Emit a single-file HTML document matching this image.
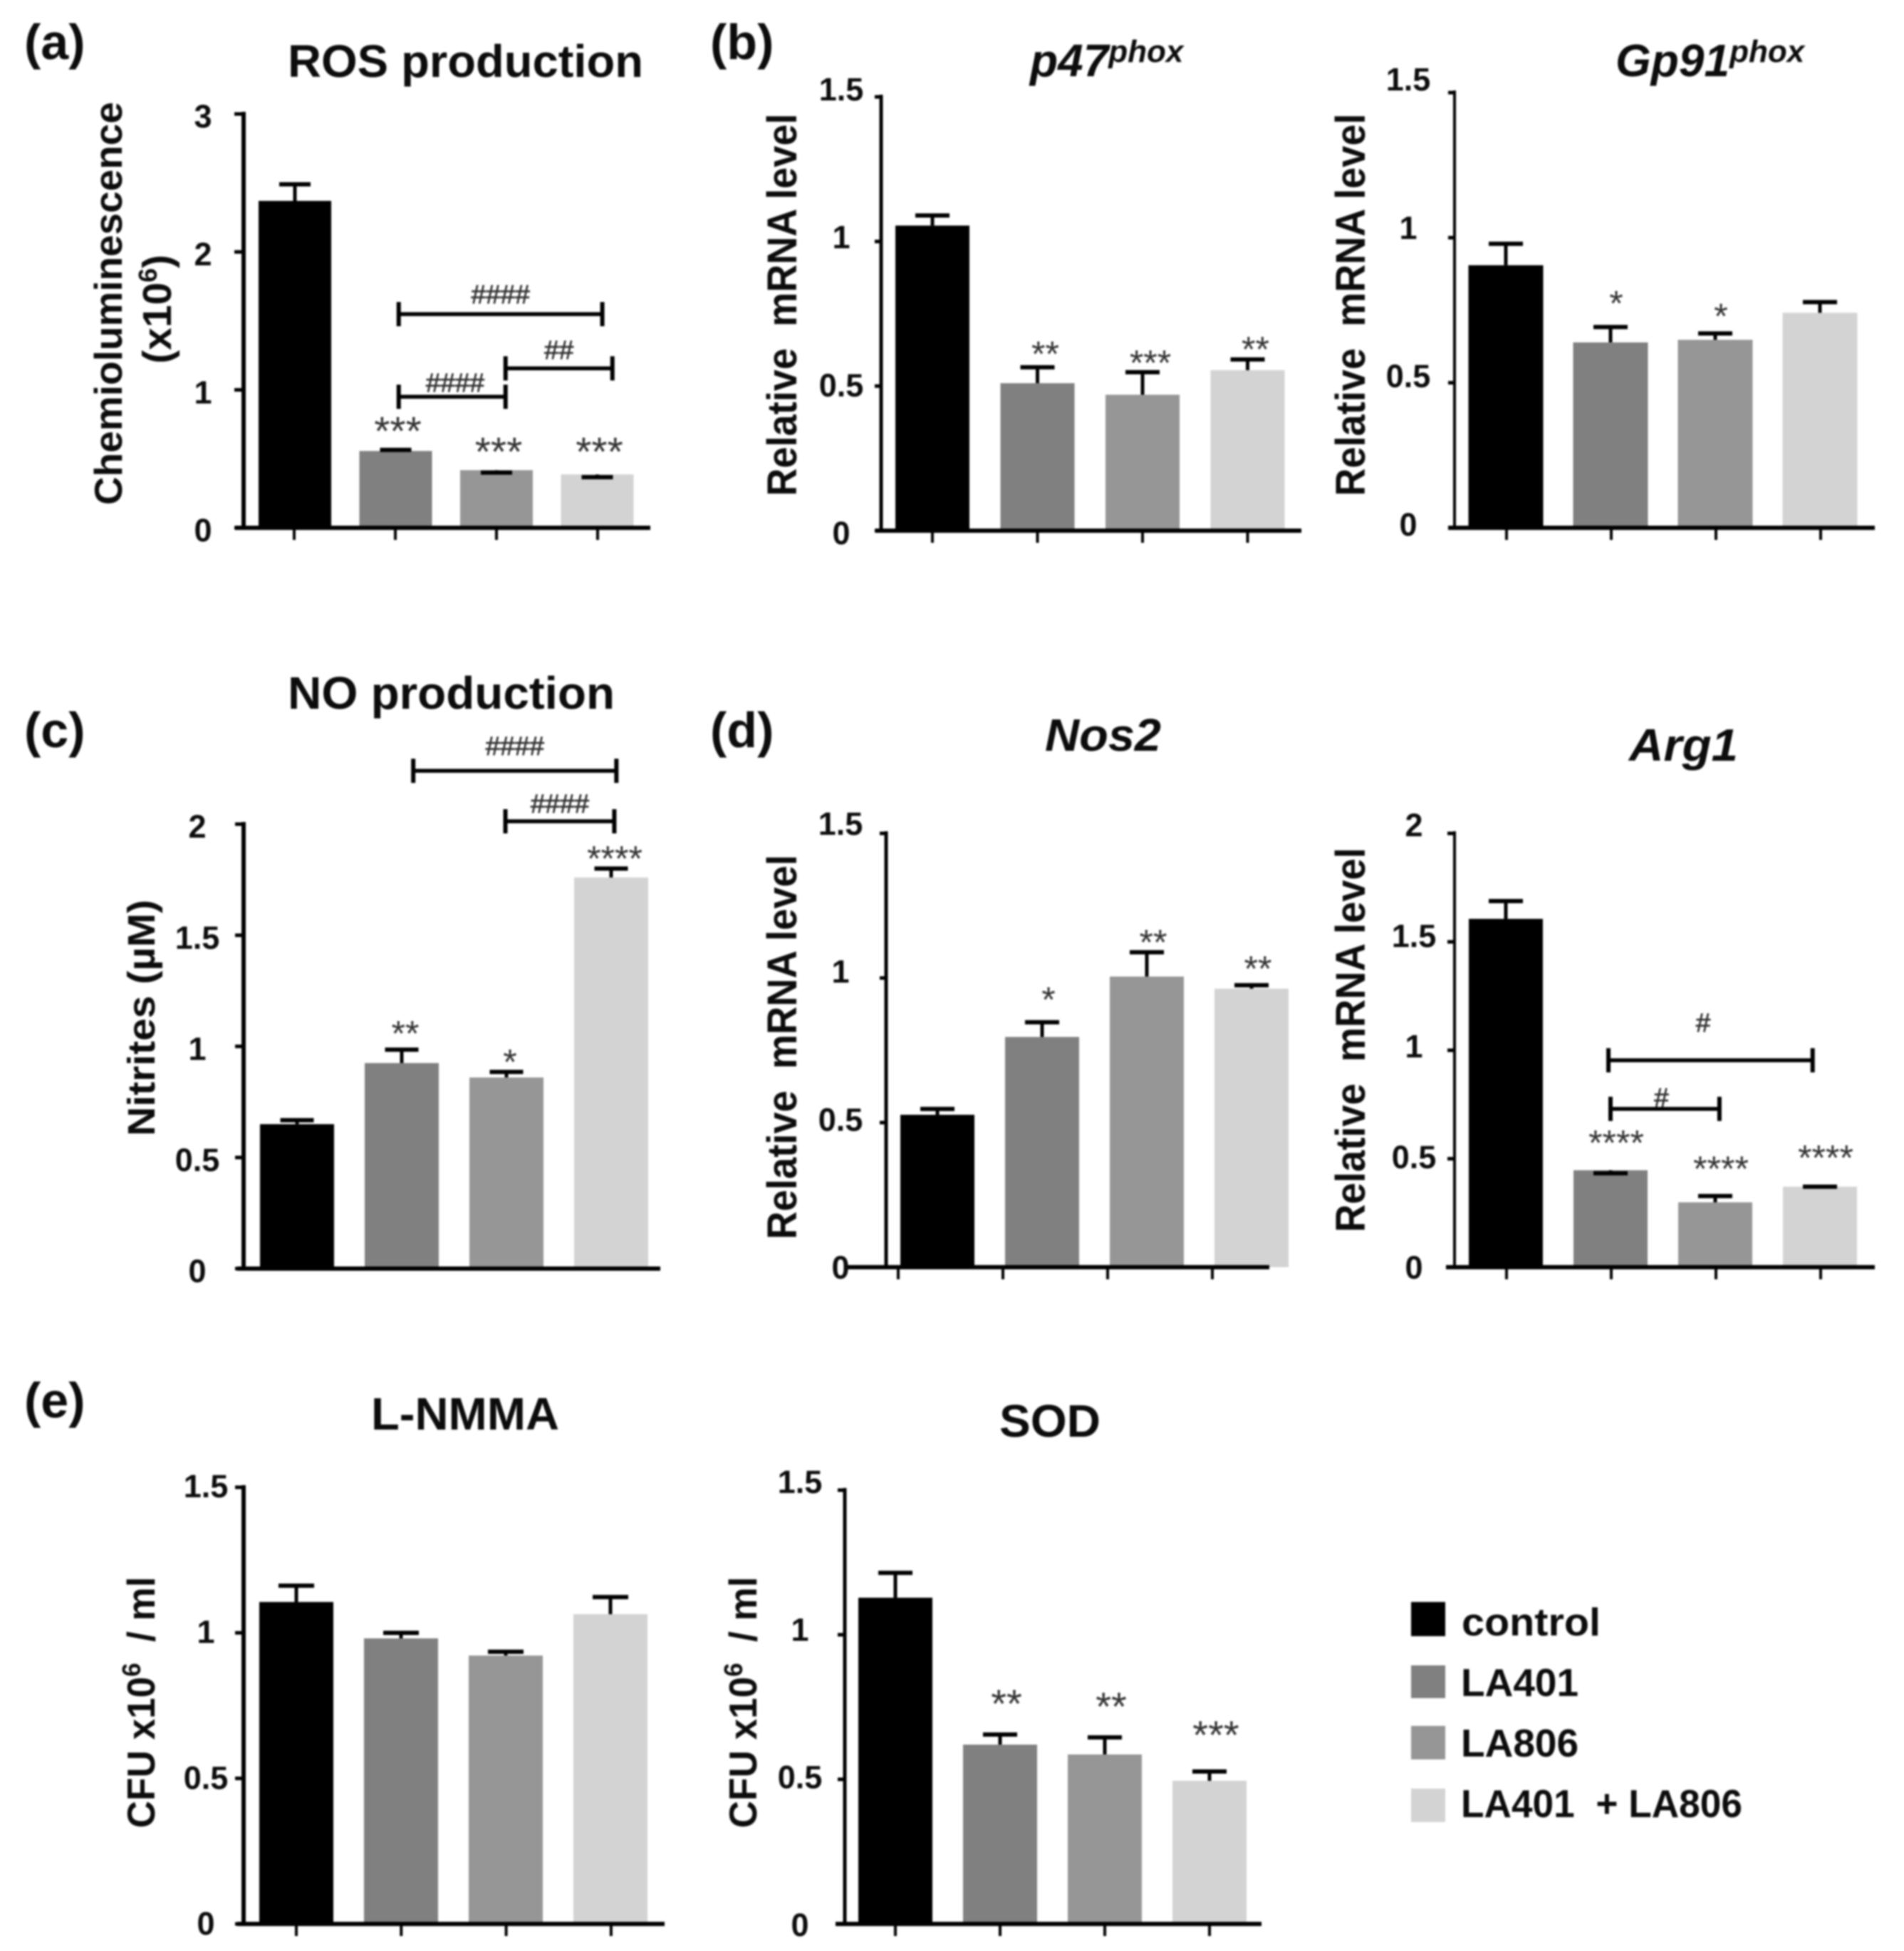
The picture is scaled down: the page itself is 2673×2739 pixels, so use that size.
<!DOCTYPE html>
<html lang="en">
<head>
<meta charset="utf-8">
<title>Bar chart figure: ROS, NO and mRNA levels</title>
<style>
html,body{margin:0;padding:0;background:#fff;}
#figure{display:block;width:2673px;height:2739px;filter:blur(1.2px);background:#fff;}
text{font-family:"Liberation Sans",Arial,sans-serif;fill:#0c0c0c;white-space:pre;}
.b{font-weight:700;}
.i{font-style:italic;font-weight:700;}
</style>
</head>
<body>
<svg id="figure" xmlns="http://www.w3.org/2000/svg" width="2673" height="2739" viewBox="0 0 2673 2739">
  <rect x="0" y="0" width="2673" height="2739" fill="#fff"/>

  <text class="b" x="34" y="83" font-size="70">(a)</text>
  <text class="b" x="997" y="83" font-size="70">(b)</text>
  <text class="b" x="34" y="1049" font-size="70">(c)</text>
  <text class="b" x="997" y="1049" font-size="70">(d)</text>
  <text class="b" x="34" y="1990" font-size="70">(e)</text>

  <text class="b" x="404" y="108" font-size="64" textLength="499" lengthAdjust="spacingAndGlyphs">ROS production</text>
  <text class="i" x="1446" y="107" font-size="64">p47<tspan font-size="44" dy="-20">phox</tspan></text>
  <text class="i" x="2268" y="107" font-size="64">Gp91<tspan font-size="44" dy="-20">phox</tspan></text>
  <text class="b" x="404" y="995" font-size="64" textLength="459" lengthAdjust="spacingAndGlyphs">NO production</text>
  <text class="i" x="1467" y="1054" font-size="64" textLength="163" lengthAdjust="spacingAndGlyphs">Nos2</text>
  <text class="i" x="2287" y="1068" font-size="64" textLength="153" lengthAdjust="spacingAndGlyphs">Arg1</text>
  <text class="b" x="521" y="2007" font-size="64" textLength="264" lengthAdjust="spacingAndGlyphs">L-NMMA</text>
  <text class="b" x="1403" y="2017" font-size="64" textLength="142" lengthAdjust="spacingAndGlyphs">SOD</text>

  <text class="b" transform="translate(171 426) rotate(-90)" text-anchor="middle" font-size="55" textLength="566" lengthAdjust="spacingAndGlyphs">Chemioluminescence</text>
  <text class="b" transform="translate(240 434) rotate(-90)" text-anchor="middle" font-size="57">(x10<tspan font-size="36" dy="-20">6</tspan><tspan dy="20">)</tspan></text>
  <text class="b" transform="translate(1118 428) rotate(-90)" text-anchor="middle" font-size="58" textLength="537" lengthAdjust="spacingAndGlyphs">Relative  mRNA level</text>
  <text class="b" transform="translate(1916 428) rotate(-90)" text-anchor="middle" font-size="58" textLength="537" lengthAdjust="spacingAndGlyphs">Relative  mRNA level</text>
  <text class="b" transform="translate(217 1429) rotate(-90)" text-anchor="middle" font-size="54" textLength="332" lengthAdjust="spacingAndGlyphs">Nitrites (µM)</text>
  <text class="b" transform="translate(1118 1470) rotate(-90)" text-anchor="middle" font-size="58" textLength="540" lengthAdjust="spacingAndGlyphs">Relative  mRNA level</text>
  <text class="b" transform="translate(1916 1460) rotate(-90)" text-anchor="middle" font-size="58" textLength="540" lengthAdjust="spacingAndGlyphs">Relative  mRNA level</text>
  <text class="b" transform="translate(217 2390) rotate(-90)" text-anchor="middle" font-size="55" textLength="353" lengthAdjust="spacingAndGlyphs">CFU x10<tspan font-size="36" dy="-20">6</tspan><tspan dy="20">  / ml</tspan></text>
  <text class="b" transform="translate(1062 2390) rotate(-90)" text-anchor="middle" font-size="55" textLength="353" lengthAdjust="spacingAndGlyphs">CFU x10<tspan font-size="36" dy="-20">6</tspan><tspan dy="20">  / ml</tspan></text>

  <g id="charts"></g>

  <g>
    <rect x="1981" y="2249" width="48" height="48" fill="#000000"/>
    <text class="b" x="2052" y="2296" font-size="55" textLength="195" lengthAdjust="spacingAndGlyphs">control</text>
    <rect x="1981" y="2338" width="48" height="46" fill="#808080"/>
    <text class="b" x="2051" y="2381" font-size="55">LA401</text>
    <rect x="1981" y="2423" width="48" height="47" fill="#969696"/>
    <text class="b" x="2051" y="2466" font-size="55">LA806</text>
    <rect x="1981" y="2511" width="48" height="47" fill="#d3d3d3"/>
    <text class="b" x="2051" y="2551" font-size="55" textLength="395" lengthAdjust="spacingAndGlyphs">LA401  + LA806</text>
  </g>
</svg>

<script>
// ---- shared ----
const groups = ['control', 'LA401', 'LA806', 'LA401 + LA806'];
const groupColors = ['#000000', '#808080', '#969696', '#d3d3d3'];

// ---- ROS production ----
const rosTicks = [0, 1, 2, 3];
const rosTickLabels = ['0', '1', '2', '3'];
const rosValues = [2.37, 0.557, 0.418, 0.387];
const rosErrorTops = [2.49, 0.565, 0.40, 0.367];
const rosStars = ['', '***', '***', '***'];
const rosStarLevels = [0, 0.749, 0.60, 0.60];
const rosBracketFrom = [1.03, 2.09, 1.03];
const rosBracketTo = [3.05, 3.15, 2.09];
const rosBracketLevels = [1.549, 1.156, 0.95];
const rosBracketLabels = ['####', '##', '####'];
const rosBracketLabelAt = [2.04, 2.62, 1.59];
const rosBracketLabelLevels = [1.688, 1.285, 1.048];

// ---- p47phox ----
const p47Ticks = [0, 0.5, 1, 1.5];
const p47TickLabels = ['0', '0.5', '1', '1.5'];
const p47Values = [1.055, 0.51, 0.47, 0.555];
const p47ErrorTops = [1.09, 0.565, 0.548, 0.592];
const p47Stars = ['', '**', '***', '**'];
const p47StarLevels = [0, 0.63, 0.60, 0.646];

// ---- Gp91phox ----
const gp91Ticks = [0, 0.5, 1, 1.5];
const gp91TickLabels = ['0', '0.5', '1', '1.5'];
const gp91Values = [0.905, 0.639, 0.648, 0.741];
const gp91ErrorTops = [0.979, 0.692, 0.67, 0.778];
const gp91Stars = ['', '*', '*', ''];
const gp91StarLevels = [0, 0.793, 0.749, 0];

// ---- NO production ----
const noTicks = [0, 0.5, 1, 1.5, 2];
const noTickLabels = ['0', '0.5', '1', '1.5', '2'];
const noValues = [0.65, 0.925, 0.86, 1.76];
const noErrorTops = [0.668, 0.985, 0.885, 1.8];
const noStars = ['', '**', '*', '****'];
const noStarLevels = [0, 1.084, 0.955, 1.87];
const noBracketFrom = [1.11, 1.99];
const noBracketTo = [3.05, 3.03];
const noBracketLevels = [2.24, 2.013];
const noBracketLabels = ['####', '####'];
const noBracketLabelAt = [2.08, 2.51];
const noBracketLabelLevels = [2.349, 2.09];

// ---- Nos2 ----
const nos2Ticks = [0, 0.5, 1, 1.5];
const nos2TickLabels = ['0', '0.5', '1', '1.5'];
const nos2Values = [0.527, 0.796, 1.005, 0.963];
const nos2ErrorTops = [0.547, 0.847, 1.089, 0.975];
const nos2Stars = ['', '*', '**', '**'];
const nos2StarLevels = [0, 0.944, 1.143, 1.052];

// ---- Arg1 ----
const arg1Ticks = [0, 0.5, 1, 1.5, 2];
const arg1TickLabels = ['0', '0.5', '1', '1.5', '2'];
const arg1Values = [1.606, 0.447, 0.299, 0.371];
const arg1ErrorTops = [1.688, 0.433, 0.328, 0.371];
const arg1Stars = ['', '****', '****', '****'];
const arg1StarLevels = [0, 0.6, 0.479, 0.531];
const arg1BracketFrom = [0.98, 1.0];
const arg1BracketTo = [2.93, 2.04];
const arg1BracketLevels = [0.954, 0.73];
const arg1BracketLabels = ['#', '#'];
const arg1BracketLabelAt = [1.885, 1.486];
const arg1BracketLabelLevels = [1.125, 0.78];

// ---- L-NMMA ----
const lnmmaTicks = [0, 0.5, 1, 1.5];
const lnmmaTickLabels = ['0', '0.5', '1', '1.5'];
const lnmmaValues = [1.106, 0.981, 0.922, 1.064];
const lnmmaErrorTops = [1.162, 1.0, 0.935, 1.123];

// ---- SOD ----
const sodTicks = [0, 0.5, 1, 1.5];
const sodTickLabels = ['0', '0.5', '1', '1.5'];
const sodValues = [1.128, 0.62, 0.586, 0.495];
const sodErrorTops = [1.214, 0.655, 0.645, 0.527];
const sodStars = ['', '**', '**', '***'];
const sodStarLevels = [0, 0.783, 0.773, 0.675];

// ---- panel wiring and layout ----
const panels = [
  {id:'ros', ticks:rosTicks, tickLabels:rosTickLabels, values:rosValues, errorTops:rosErrorTops, stars:rosStars, starLevels:rosStarLevels,
   bracketFrom:rosBracketFrom, bracketTo:rosBracketTo, bracketLevels:rosBracketLevels, bracketLabels:rosBracketLabels, bracketLabelAt:rosBracketLabelAt, bracketLabelLevels:rosBracketLabelLevels,
   axisX:342, yTop:160, y0:741, xStart:330, xEnd:913, barX0:414, barStep:141.5, barW:102, tickX0:413, tickStep:142, showTicks:true, capW:44, starDx:3, starSize:57, lw:6, tickLen:13, labelX:285, lbl0:760, lblMax:179},
  {id:'p47', ticks:p47Ticks, tickLabels:p47TickLabels, values:p47Values, errorTops:p47ErrorTops, stars:p47Stars, starLevels:p47StarLevels,
   axisX:1237, yTop:136, y0:745, xStart:1229, xEnd:1827, barX0:1309, barStep:147.5, barW:104, tickX0:1309, tickStep:147.5, showTicks:true, capW:48, starDx:11, starSize:50, lw:5, tickLen:9, labelX:1181, lbl0:764, lblMax:141},
  {id:'gp91', ticks:gp91Ticks, tickLabels:gp91TickLabels, values:gp91Values, errorTops:gp91ErrorTops, stars:gp91Stars, starLevels:gp91StarLevels,
   axisX:2042, yTop:130, y0:741, xStart:2033, xEnd:2632, barX0:2114, barStep:147, barW:105, tickX0:2115, tickStep:147, showTicks:true, capW:48, starDx:8, starSize:50, lw:4, tickLen:9, labelX:1977, lbl0:752, lblMax:127},
  {id:'no', ticks:noTicks, tickLabels:noTickLabels, values:noValues, errorTops:noErrorTops, stars:noStars, starLevels:noStarLevels,
   bracketFrom:noBracketFrom, bracketTo:noBracketTo, bracketLevels:noBracketLevels, bracketLabels:noBracketLabels, bracketLabelAt:noBracketLabelAt, bracketLabelLevels:noBracketLabelLevels,
   axisX:342, yTop:1157, y0:1781, xStart:333, xEnd:927, barX0:417, barStep:147, barW:104, tickX0:417, tickStep:147, showTicks:false, capW:47, starDx:5, starSize:50, lw:6, tickLen:12, labelX:277, lbl0:1800, lblMax:1176},
  {id:'nos2', ticks:nos2Ticks, tickLabels:nos2TickLabels, values:nos2Values, errorTops:nos2ErrorTops, stars:nos2Stars, starLevels:nos2StarLevels,
   axisX:1244, yTop:1170, y0:1779, xStart:1187, xEnd:1782, barX0:1316, barStep:147, barW:104, tickX0:1261, tickStep:147, showTicks:true, capW:48, starDx:9, starSize:50, lw:5, tickLen:9, labelX:1180, lbl0:1795, lblMax:1172},
  {id:'arg1', ticks:arg1Ticks, tickLabels:arg1TickLabels, values:arg1Values, errorTops:arg1ErrorTops, stars:arg1Stars, starLevels:arg1StarLevels,
   bracketFrom:arg1BracketFrom, bracketTo:arg1BracketTo, bracketLevels:arg1BracketLevels, bracketLabels:arg1BracketLabels, bracketLabelAt:arg1BracketLabelAt, bracketLabelLevels:arg1BracketLabelLevels,
   axisX:2042, yTop:1170, y0:1779, xStart:2030, xEnd:2632, barX0:2114, barStep:147, barW:104, tickX0:2115, tickStep:147, showTicks:true, capW:48, starDx:8, starSize:50, lw:4, tickLen:10, labelX:1985, lbl0:1795, lblMax:1174},
  {id:'lnmma', ticks:lnmmaTicks, tickLabels:lnmmaTickLabels, values:lnmmaValues, errorTops:lnmmaErrorTops,
   axisX:342, yTop:2088, y0:2701, xStart:333, xEnd:933, barX0:416, barStep:147, barW:104, tickX0:416, tickStep:147.3, showTicks:true, capW:50, starDx:0, starSize:50, lw:6, tickLen:12, labelX:289, lbl0:2716, lblMax:2102},
  {id:'sod', ticks:sodTicks, tickLabels:sodTickLabels, values:sodValues, errorTops:sodErrorTops, stars:sodStars, starLevels:sodStarLevels,
   axisX:1186, yTop:2092, y0:2701, xStart:1173, xEnd:1771, barX0:1257, barStep:147, barW:104, tickX0:1257, tickStep:147, showTicks:true, capW:48, starDx:9, starSize:56, lw:5, tickLen:10, labelX:1123, lbl0:2718, lblMax:2096}
];

const SVG_NS = 'http://www.w3.org/2000/svg';
const chartsRoot = document.getElementById('charts');

function line(parent, x1, y1, x2, y2, width, name) {
  const el = document.createElementNS(SVG_NS, 'line');
  el.setAttribute('x1', x1);
  el.setAttribute('y1', y1);
  el.setAttribute('x2', x2);
  el.setAttribute('y2', y2);
  el.setAttribute('stroke', '#000');
  el.setAttribute('stroke-width', width);
  
  
  parent.appendChild(el);
  return el;
}

function label(parent, x, y, str, size, fill, weight, name) {
  const el = document.createElementNS(SVG_NS, 'text');
  el.setAttribute('x', x);
  el.setAttribute('y', y);
  el.setAttribute('text-anchor', 'middle');
  el.setAttribute('font-size', size);
  el.setAttribute('font-weight', weight);
  el.style.fill = fill;
  el.textContent = str;
  
  
  parent.appendChild(el);
  return el;
}

panels.forEach(function (p) {
  const g = document.createElementNS(SVG_NS, 'g');
  
  
  chartsRoot.appendChild(g);

  const yMax = p.ticks[p.ticks.length - 1];
  const yScale = function (v) { return p.y0 - v * (p.y0 - p.yTop) / yMax; };
  const barScale = function (i) { return p.barX0 + i * p.barStep; };
  const tickScale = function (i) { return p.tickX0 + i * p.tickStep; };
  const labelScale = function (v) { return p.lbl0 - v * (p.lbl0 - p.lblMax) / yMax; };

  // bars
  p.values.forEach(function (v, i) {
    const bar = document.createElementNS(SVG_NS, 'rect');
    bar.setAttribute('x', barScale(i) - p.barW / 2);
    bar.setAttribute('y', yScale(v));
    bar.setAttribute('width', p.barW);
    bar.setAttribute('height', p.y0 - yScale(v));
    bar.setAttribute('fill', groupColors[i]);
    
    
    g.appendChild(bar);
  });

  // error bars
  p.errorTops.forEach(function (e, i) {
    const cx = barScale(i);
    line(g, cx, yScale(p.values[i]), cx, yScale(e), 5, p.id + '-error-stem-' + i);
    line(g, cx - p.capW / 2, yScale(e), cx + p.capW / 2, yScale(e), 6, p.id + '-error-cap-' + i);
  });

  // axes
  line(g, p.axisX, p.yTop - 3, p.axisX, p.y0 + 3, p.lw, p.id + '-y-axis');
  line(g, p.xStart, p.y0, p.xEnd, p.y0, 6, p.id + '-x-axis');

  // y ticks and labels
  p.ticks.forEach(function (t, i) {
    line(g, p.axisX - p.tickLen, yScale(t), p.axisX, yScale(t), 5, p.id + '-y-tick-' + i);
    label(g, p.labelX, labelScale(t), p.tickLabels[i], 45, '#0c0c0c', 700, p.id + '-y-tick-label-' + i);
  });

  // x ticks
  if (p.showTicks) {
    groups.forEach(function (c, i) {
      line(g, tickScale(i), p.y0, tickScale(i), p.y0 + 17, 4, p.id + '-x-tick-' + i);
    });
  }

  // significance stars
  (p.stars || []).forEach(function (s, i) {
    if (!s) return;
    label(g, barScale(i) + p.starDx, yScale(p.starLevels[i]) + 0.5 * p.starSize, s, p.starSize, '#333333', 400, p.id + '-significance-' + i);
  });

  // comparison brackets
  (p.bracketLevels || []).forEach(function (lvl, i) {
    const xa = barScale(p.bracketFrom[i]);
    const xb = barScale(p.bracketTo[i]);
    const yb = yScale(lvl);
    line(g, xa, yb, xb, yb, 5.5, p.id + '-bracket-' + i);
    line(g, xa, yb - 17, xa, yb + 17, 6, p.id + '-bracket-left-cap-' + i);
    line(g, xb, yb - 17, xb, yb + 17, 6, p.id + '-bracket-right-cap-' + i);
    const tag = label(g, barScale(p.bracketLabelAt[i]), yScale(p.bracketLabelLevels[i]) + 12, p.bracketLabels[i], 37, '#333333', 400, p.id + '-bracket-label-' + i);
    tag.setAttribute('stroke', '#333333');
    tag.setAttribute('stroke-width', '0.8');
  });
});
</script>
</body>
</html>
